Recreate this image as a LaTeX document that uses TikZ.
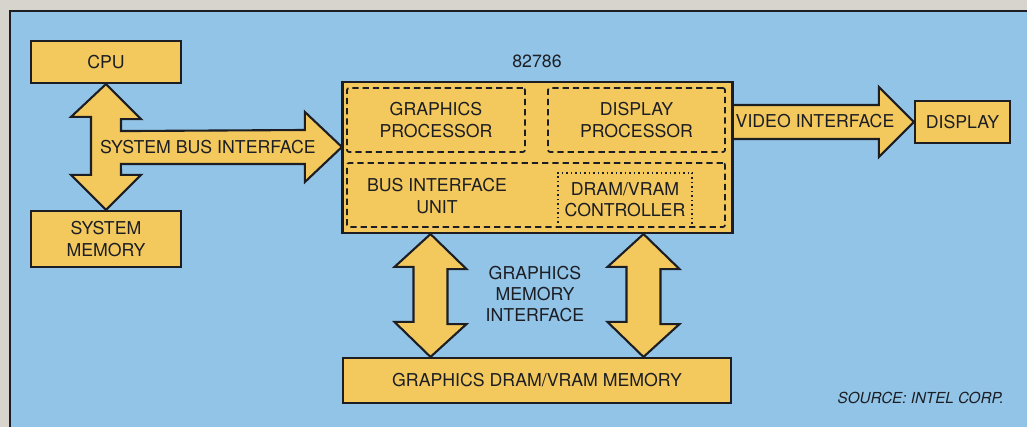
\documentclass[tikz,border=0pt]{standalone}
\usepackage{fontspec}
\setmainfont{TeX Gyre Heros}
\usetikzlibrary{calc}
\definecolor{paper}{RGB}{214,212,205}
\definecolor{bgblue}{RGB}{145,196,231}
\definecolor{chipyellow}{RGB}{243,201,94}
\definecolor{ink}{RGB}{28,30,36}

\begin{document}
\begin{tikzpicture}[x=0.025cm, y=-0.025cm,
    box/.style={draw=ink, fill=chipyellow, line width=1.5pt, inner sep=0pt, align=center, text=ink},
    part/.style={draw=ink, line width=1.2pt, dash pattern=on 4.5pt off 2.8pt, rounded corners=1.5pt, inner sep=0pt, align=center, text=ink},
    fat/.style={draw=ink, fill=chipyellow, line width=1.5pt, line join=miter},
    lbl/.style={text=ink, align=center, inner sep=0pt},
    font=\fontsize{12.6}{15}\selectfont]
    \useasboundingbox (0,0) rectangle (1027,427);
    \fill[paper] (-5,-5) rectangle (1035,435);
    \fill[bgblue] (10,11) rectangle (1035,435);
    \draw[ink, line width=0.9pt] (10,435) -- (10,11) -- (1035,11);

    \node[box, minimum width=3.75cm, minimum height=1.05cm] (cpu) at (106,62) {CPU};
    \node[box, minimum width=3.75cm, minimum height=1.4cm] (sysmem) at (106,239) {SYSTEM\\MEMORY};
    \node[box, minimum width=9.725cm, minimum height=3.775cm] (chip) at (537.5,157.5) {};
    \node[box, minimum width=2.375cm, minimum height=1.05cm] (display) at (962.5,122) {DISPLAY};
    \node[box, minimum width=9.7cm, minimum height=1.125cm] (gmem) at (537,380.5) {GRAPHICS DRAM/VRAM MEMORY};
    \coordinate (bustip) at (chip.west |- 0,147);

    \draw[fat] (cpu.south) -- ++(35,35) -- ++(-20,0) -- ++(0,12) -- ($(bustip)+(-37,-17)$)
        -- ++(0,-18) -- (bustip) -- ++(-37,35) -- ++(0,-18) -- ++(-184,0)
        -- ($(sysmem.north)+(15,-35)$) -- ++(20,0) -- (sysmem.north) -- ++(-35,-35)
        -- ++(20,0) -- ++(0,-58) -- ++(-20,0) -- cycle;
    \draw[fat] ($(chip.east |- display.west)+(0,-17)$) -- ($(display.west)+(-35,-17)$) -- ++(0,-18)
        -- (display.west) -- ++(-35,35) -- ++(0,-18) -- ($(chip.east |- display.west)+(0,17)$);
    \foreach \dx in {-107,106} {
        \draw[fat] ($(chip.south)+(\dx,0)$) -- ++(36,35) -- ++(-19,0) -- ++(0,55) -- ++(19,0)
            -- ($(gmem.north)+(\dx+0.5,0)$) -- ++(-36,-35) -- ++(19,0) -- ++(0,-55) -- ++(-19,0) -- cycle;
    }
    \draw[ink, line width=1.5pt] (chip.north east) -- (chip.south east);
    \draw[ink, line width=1.5pt] (chip.north west) -- (chip.south west);

    \node[part, minimum width=4.45cm, minimum height=1.6cm] (gproc) at (436,120) {GRAPHICS\\PROCESSOR};
    \node[part, minimum width=4.425cm, minimum height=1.6cm] (dproc) at (636.5,120) {DISPLAY\\PROCESSOR};
    \node[part, minimum width=9.45cm, minimum height=1.6cm] (biu) at (536,195) {};
    \node[lbl] (biutext) at (437,196) {BUS INTERFACE\\UNIT};
    \node[lbl, minimum width=3.35cm, minimum height=1.35cm] (dramctl) at (625,200) {DRAM/VRAM\\CONTROLLER};
    \draw[ink, line width=1.2pt, dash pattern=on 1.2pt off 2pt] (dramctl.south west) -- (dramctl.north west)
        -- (dramctl.north east) -- (dramctl.south east);

    \node[lbl] (chipname) at (537,61) {82786};
    \node[lbl] (buslbl) at (208,147) {SYSTEM BUS INTERFACE};
    \node[lbl] (vidlbl) at (815,121) {VIDEO INTERFACE};
    \node[lbl] (gmemlbl) at (535,294) {GRAPHICS\\MEMORY\\INTERFACE};
    \node[lbl, anchor=east, font=\fontsize{10.8}{12}\itshape] (source) at (1004,398) {SOURCE: INTEL CORP.};
\end{tikzpicture}
\end{document}
